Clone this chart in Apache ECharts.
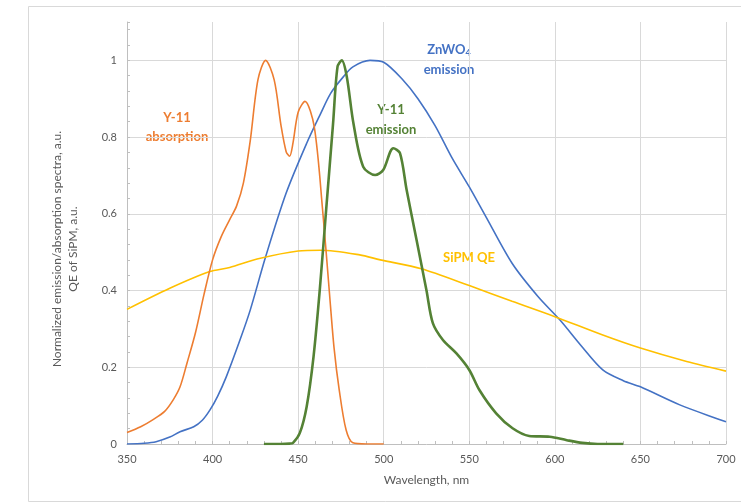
<!DOCTYPE html>
<html>
<head>
<meta charset="utf-8">
<script src="https://cdn.jsdelivr.net/npm/echarts@6/dist/echarts.min.js"></script>
<style>html,body{margin:0;padding:0;background:#fff;}#c{width:741px;height:504px;}</style>
</head>
<body>
<div id="c"></div>
<script>
// Y-11 absorption
var absWl = [350,358,365,372,377,381,385,390,395,400,405,410,414,418,422,426.5,431,436,440,443,445,447,450,454,459.4,464.3,468.3,471,474,478,482,490,500];
var absVal = [0.03,0.045,0.063,0.085,0.115,0.149,0.21,0.29,0.39,0.48,0.54,0.585,0.62,0.68,0.79,0.949,1.0,0.949,0.83,0.762,0.75,0.785,0.865,0.893,0.827,0.61,0.393,0.25,0.141,0.037,0.003,0,0];
// ZnWO4 emission
var znWl = [350,360,367,375,381,389,394,398.5,403,408,416,422,431,443,455,463,469,476,482,492,500,511,520,530,540,550,560,575,590,603,615,628,640,650,673,700];
var znVal = [0,0.002,0.006,0.018,0.032,0.045,0.062,0.089,0.125,0.175,0.271,0.349,0.488,0.654,0.784,0.86,0.914,0.955,0.983,1.0,0.995,0.95,0.9,0.83,0.745,0.67,0.59,0.471,0.385,0.323,0.258,0.193,0.165,0.149,0.102,0.058];
// SiPM QE
var qeWl = [350,375,398,410,426,450,463,486,498,522,550,575,600,628,650,677,700];
var qeVal = [0.351,0.406,0.449,0.46,0.482,0.503,0.505,0.493,0.48,0.457,0.413,0.372,0.332,0.284,0.25,0.215,0.19];
// Y-11 emission
var emWl = [430,440,445,447,451,455,459,462.6,466.5,470.4,473,475.5,478.4,482.3,488,495,499.7,505.6,509.5,513.4,519.2,525,528.7,534.6,542.5,550,556,565.7,575.3,585,597,607,616,625,640];
var emVal = [0,0,0.001,0.003,0.029,0.098,0.228,0.40,0.618,0.835,0.983,1.0,0.958,0.836,0.723,0.701,0.714,0.771,0.758,0.662,0.532,0.40,0.315,0.271,0.236,0.193,0.14,0.08,0.041,0.021,0.019,0.01,0.003,0,0];

var xTicks = [350,400,450,500,550,600,650,700];
var yTicks = [0,0.2,0.4,0.6,0.8,1];

function pairs(a,b){return a.map(function(v,i){return [v,b[i]];});}

var FONT = 'Lato';
var chart = echarts.init(document.getElementById('c'), null, {renderer:'canvas'});
function line(name, wl, val, color, width){
  return {name:name, type:'line', data:pairs(wl,val), smooth:0.3, showSymbol:false, symbol:'none',
    lineStyle:{color:color, width:width}, itemStyle:{color:color}, z: 3};
}
chart.setOption({
  animation:false,
  backgroundColor:'#ffffff',
  textStyle:{fontFamily:FONT},
  grid:{left:127, right:15, top:22, bottom:60, containLabel:false},
  xAxis:{type:'value', min:xTicks[0], max:xTicks[xTicks.length-1], interval:50,
    name:'Wavelength, nm', nameLocation:'middle', nameGap:30,
    nameTextStyle:{color:'#595959', fontSize:12, fontFamily:FONT},
    axisLine:{show:true, lineStyle:{color:'#bfbfbf', width:1}},
    axisTick:{show:true, inside:true, length:3, lineStyle:{color:'#bfbfbf'}},
    minorTick:{show:true, splitNumber:5, length:3, lineStyle:{color:'#bfbfbf'}},
    axisLabel:{color:'#595959', fontSize:11, margin:10, fontFamily:FONT},
    splitLine:{show:true, lineStyle:{color:'#d9d9d9', width:1}}
  },
  yAxis:{type:'value', min:0, max:1.1, interval:0.2,
    axisLine:{show:true, lineStyle:{color:'#bfbfbf', width:1}},
    axisTick:{show:true, inside:true, length:3, lineStyle:{color:'#bfbfbf'}},
    minorTick:{show:true, splitNumber:5, length:3, lineStyle:{color:'#bfbfbf'}},
    axisLabel:{color:'#595959', fontSize:11, margin:10, fontFamily:FONT, showMaxLabel:false,
      formatter:function(v){return yTicks.indexOf(Math.round(v*10)/10)>=0 && v<=1.0001 ? String(Math.round(v*10)/10) : '';}},
    splitLine:{show:true, showMaxLine:false, showMinLine:false, lineStyle:{color:'#d9d9d9', width:1}}
  },
  series:[
    line('ZnWO4 emission', znWl, znVal, '#4472C4', 1.6),
    line('SiPM QE', qeWl, qeVal, '#FFC000', 1.6),
    line('Y-11 absorption', absWl, absVal, '#ED7D31', 1.6),
    line('Y-11 emission', emWl, emVal, '#548235', 2.6)
  ],
  graphic:[
    {type:'rect', shape:{x:28.5, y:6.5, width:730, height:495}, style:{fill:'none', stroke:'#d9d9d9', lineWidth:1}, silent:true, z:-10},
    {type:'text', x:65, y:249, rotation:Math.PI/2, style:{text:'Normalized emission/absorption spectra, a.u.\nQE of SiPM, a.u.', fill:'#595959', font:'12px Lato', textAlign:'center', textVerticalAlign:'middle', lineHeight:16}},
    {type:'text', x:177, y:127, style:{text:'Y-11\nabsorption', fill:'#ED7D31', font:'bold 13px Lato', textAlign:'center', textVerticalAlign:'middle', lineHeight:19}},
    {type:'text', x:391, y:120, style:{text:'Y-11\nemission', fill:'#548235', font:'bold 13px Lato', textAlign:'center', textVerticalAlign:'middle', lineHeight:20}},
    {type:'text', x:469, y:258, style:{text:'SiPM QE', fill:'#FFC000', font:'bold 13px Lato', textAlign:'center', textVerticalAlign:'middle'}},
    {type:'text', x:449, y:70, style:{text:'emission', fill:'#4472C4', font:'bold 13px Lato', textAlign:'center', textVerticalAlign:'middle'}},
    {type:'text', x:449, y:50, style:{text:'{a|ZnWO}{s|4}', textAlign:'center', textVerticalAlign:'middle',
      rich:{a:{fill:'#4472C4', font:'bold 13px Lato'}, s:{fill:'#4472C4', font:'bold 9px Lato', padding:[7,0,0,0]}}}}
  ]
});
</script>
</body>
</html>
